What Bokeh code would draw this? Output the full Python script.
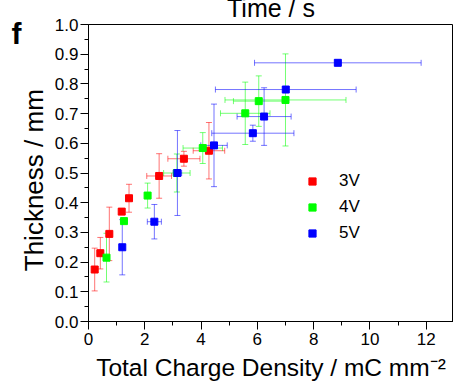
from bokeh.plotting import figure
from bokeh.models import (ColumnDataSource, Whisker, TeeHead, Legend, LegendItem, LinearAxis,
                          PrintfTickFormatter, FixedTicker)
from bokeh.embed import file_html
from bokeh.resources import INLINE

# ---- data ----
x_3v = [0.22, 0.42, 0.74, 1.18, 1.44, 2.51, 3.39, 4.28]
y_3v = [0.175, 0.23, 0.295, 0.37, 0.415, 0.49, 0.548, 0.575]
xerr_3v = [0.08, 0.1, 0.1, 0.05, 0.1, 0.44, 0.57, 0.56]
yerr_3v = [0.072, 0.053, 0.09, 0.01, 0.047, 0.075, 0.025, 0.095]

x_4v = [0.64, 1.26, 2.10, 3.14, 4.06, 5.57, 6.05, 7.0]
y_4v = [0.215, 0.338, 0.424, 0.50, 0.584, 0.701, 0.742, 0.746]
xerr_4v = [0.05, 0.05, 0.05, 0.47, 0.7, 0.88, 0.9, 2.15]
yerr_4v = [0.082, 0.0, 0.042, 0.064, 0.052, 0.105, 0.085, 0.155]

x_5v = [1.20, 2.34, 3.16, 4.46, 5.84, 6.24, 7.01, 8.86]
y_5v = [0.25, 0.336, 0.50, 0.593, 0.634, 0.69, 0.781, 0.871]
xerr_5v = [0.0, 0.25, 0.15, 0.47, 1.46, 0.96, 2.5, 2.96]
yerr_5v = [0.093, 0.058, 0.143, 0.139, 0.027, 0.097, 0.0, 0.0]

series_names = ["3V", "4V", "5V"]
series_colors = ["#ff0000", "#00ff00", "#0000ff"]

x_ticks = [0, 2, 4, 6, 8, 10, 12]
y_ticks = [0.0, 0.1, 0.2, 0.3, 0.4, 0.5, 0.6, 0.7, 0.8, 0.9, 1.0]
panel_letter = "f"
panel_letter_at = 0.97   # vertical anchor of the panel letter, in y-axis units

FONT = "Liberation Sans"
SHIFT = 13  # the reference is cropped at the top; draw taller and shift the page up

p = figure(width=453, height=388 + SHIFT, output_backend="svg", toolbar_location=None,
           x_range=(0, 12.97), y_range=(0, 1.0),
           min_border_left=88, min_border_right=0, min_border_top=24 + SHIFT, min_border_bottom=67)
p.styles = {"margin-top": f"-{SHIFT}px"}
p.grid.visible = False
p.background_fill_color = "white"
p.border_fill_color = "white"
p.outline_line_color = "black"
p.outline_line_width = 1

for ax in (p.xaxis[0], p.yaxis[0]):
    ax.axis_line_color = "black"
    ax.major_tick_line_color = "black"
    ax.minor_tick_line_color = "black"
    ax.major_tick_in = 0
    ax.major_tick_out = 8
    ax.minor_tick_in = 0
    ax.minor_tick_out = 4
    ax.major_label_text_font = FONT
    ax.major_label_text_font_size = "17px"
    ax.major_label_text_color = "black"
    ax.axis_label_text_font = FONT
    ax.axis_label_text_font_style = "normal"
    ax.axis_label_text_color = "black"

p.xaxis.axis_label_text_font_size = "24.5px"
p.yaxis.axis_label_text_font_size = "26px"
p.xaxis.major_label_standoff = 3
p.yaxis.major_label_standoff = 2
p.xaxis.ticker = FixedTicker(ticks=x_ticks, minor_ticks=[1, 3, 5, 7, 9, 11])
p.yaxis.ticker = FixedTicker(ticks=y_ticks,
                             minor_ticks=[0.05, 0.15, 0.25, 0.35, 0.45, 0.55, 0.65, 0.75, 0.85, 0.95])
p.yaxis.formatter = PrintfTickFormatter(format="%.1f")
p.xaxis.axis_label = "Total Charge Density / mC mm\u207b\u00b2"
p.yaxis.axis_label = "Thickness / mm\u00a0\u00a0"
p.xaxis.axis_label_standoff = 6
p.yaxis.axis_label_standoff = 3

# outer left axis that only carries the bold panel letter
letter_axis = LinearAxis(ticker=FixedTicker(ticks=[panel_letter_at], minor_ticks=[]),
                         major_label_overrides={panel_letter_at: panel_letter},
                         axis_line_color=None, major_tick_line_color=None,
                         minor_tick_line_color=None, major_tick_out=0, major_tick_in=0,
                         major_label_standoff=-6,
                         major_label_text_font=FONT, major_label_text_font_size="30px",
                         major_label_text_font_style="bold", major_label_text_color="black")
p.add_layout(letter_axis, "left")

all_data = [(x_3v, y_3v, xerr_3v, yerr_3v), (x_4v, y_4v, xerr_4v, yerr_4v), (x_5v, y_5v, xerr_5v, yerr_5v)]
items = []
for (xs, ys, xe, ye), name, col in zip(all_data, series_names, series_colors):
    src = ColumnDataSource(dict(
        x=xs, y=ys,
        xl=[a - b for a, b in zip(xs, xe)], xu=[a + b for a, b in zip(xs, xe)],
        yl=[a - b for a, b in zip(ys, ye)], yu=[a + b for a, b in zip(ys, ye)],
    ))
    for dim, lo, hi, base in (("height", "yl", "yu", "x"), ("width", "xl", "xu", "y")):
        w = Whisker(source=src, base=base, lower=lo, upper=hi, dimension=dim,
                    line_color=col, line_alpha=0.55, line_width=1,
                    lower_head=TeeHead(size=6, line_color=col, line_alpha=0.55, line_width=1),
                    upper_head=TeeHead(size=6, line_color=col, line_alpha=0.55, line_width=1))
        p.add_layout(w)
    r = p.scatter("x", "y", source=src, marker="square", size=7, fill_color=col, line_color=col)
    items.append(LegendItem(label=name, renderers=[r]))

legend = Legend(items=items, location=(214, 78), orientation="vertical",
                glyph_width=20, glyph_height=18, label_height=18, spacing=6,
                label_standoff=17, padding=0, margin=0,
                border_line_color=None, background_fill_alpha=0,
                label_text_font=FONT, label_text_font_size="17px", label_text_color="black")
p.add_layout(legend, "center")

# top title (partly cut off at the top edge in the reference)
p.title.text = "Time / s"
p.title.align = "center"
p.title.vertical_align = "bottom"
p.title.text_font = FONT
p.title.text_font_size = "25px"
p.title.text_font_style = "normal"
p.title.text_color = "black"
p.title.standoff = 6

open("out.html", "w").write(file_html(p, INLINE))
